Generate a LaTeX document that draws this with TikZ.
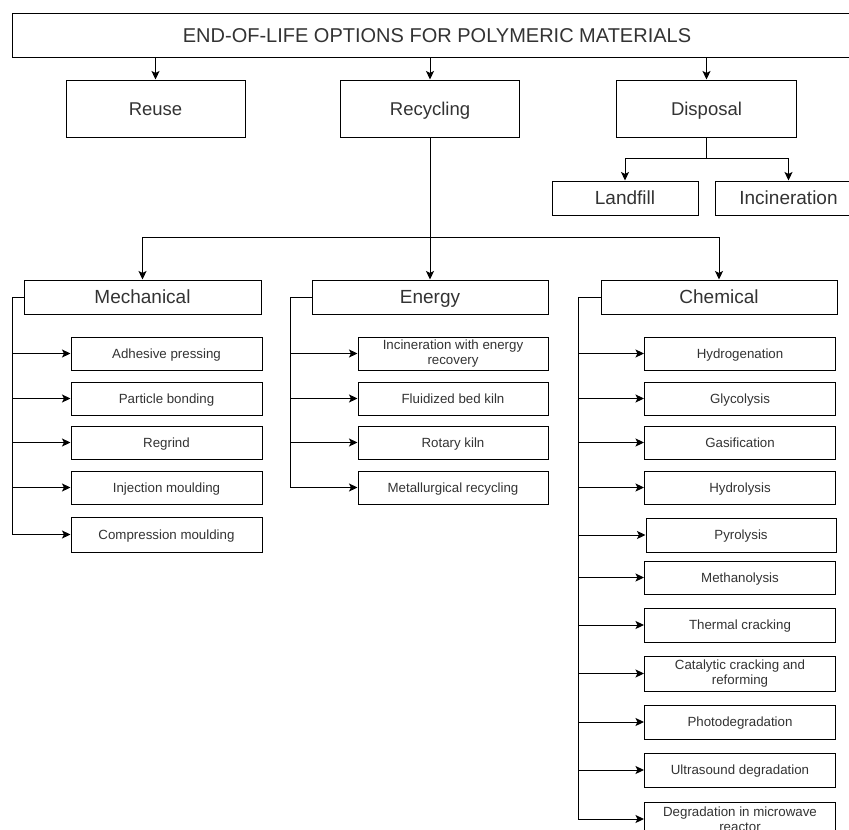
\documentclass[tikz,border=0pt]{standalone}
\usepackage{fontspec}
\setmainfont{Liberation Sans}
\usetikzlibrary{arrows.meta,calc}
\definecolor{txt}{HTML}{333333}
\begin{document}
\begin{tikzpicture}[x=1pt,y=-1pt,
  box/.style={draw=black,line width=1pt,text=txt,inner sep=0pt,align=center,fill=white},
  one/.style={text height=9.5pt,text depth=0pt},
  titlebox/.style={box,text height=14.3pt,text depth=0pt,minimum width=850pt,minimum height=44pt,font=\fontsize{20}{24}\selectfont},
  topbox/.style={box,text height=13.3pt,text depth=0pt,minimum width=179pt,minimum height=57pt,font=\fontsize{18.5}{22}\selectfont},
  dispbox/.style={box,text height=13.6pt,text depth=0pt,minimum width=146pt,minimum height=34pt,font=\fontsize{19}{22}\selectfont},
  catbox/.style={box,text height=13.6pt,text depth=0pt,minimum width=236pt,minimum height=34pt,font=\fontsize{19}{22}\selectfont},
  subbox/.style={box,minimum width=191pt,minimum height=33pt,font=\fontsize{13.3}{15}\selectfont},
  conn/.style={line width=1pt,draw=black},
  arr/.style={conn,-{Stealth[length=8.5pt,width=8pt,inset=2pt]}}
]
\useasboundingbox (0,0) rectangle (849,830);
\clip (0,0) rectangle (849,830);

% top level
\node[titlebox] (title) at (437,35) {END-OF-LIFE OPTIONS FOR POLYMERIC MATERIALS};
\node[topbox] (reuse) at (155.5,108.5) {Reuse};
\node[topbox] (recycling) at (430,108.5) {Recycling};
\node[topbox,minimum width=180pt] (disposal) at (706.5,108.5) {Disposal};
\draw[arr] (reuse.north |- title.south) -- (reuse.north);
\draw[arr] (recycling.north |- title.south) -- (recycling.north);
\draw[arr] (disposal.north |- title.south) -- (disposal.north);

% disposal
\node[dispbox] (landfill) at (625,198) {Landfill};
\node[dispbox,minimum width=147pt] (incin) at (788.5,198) {Incineration};
\coordinate (dj) at (706.5,158);
\draw[conn] (disposal.south) -- (dj);
\draw[arr] (dj) -| (landfill.north);
\draw[arr] (dj) -| (incin.north);

% recycling categories
\node[catbox,minimum width=237pt] (mech) at (142.5,297) {Mechanical};
\node[catbox] (energy) at (430,297) {Energy};
\node[catbox] (chem) at (719,297) {Chemical};
\coordinate (rj) at (430,237);
\draw[arr] (recycling.south) -- (energy.north);
\draw[arr] (rj) -| (mech.north);
\draw[arr] (rj) -| (chem.north);

% mechanical
\begin{scope}[every node/.append style={one}]
\node[subbox] (m1) at (166.5,353.5) {Adhesive pressing};
\node[subbox] (m2) at (166.5,398.5) {Particle bonding};
\node[subbox] (m3) at (166.5,442.5) {Regrind};
\node[subbox] (m4) at (166.5,487.5) {Injection moulding};
\node[subbox,minimum height=35pt] (m5) at (166.5,534.5) {Compression moulding};
\end{scope}
\coordinate (mx) at (12,297);
\draw[conn] (mech.west) -- (mx) -- (mx |- m5.west);
\foreach \n in {m1,m2,m3,m4,m5} \draw[arr] (mx |- \n.west) -- (\n.west);

% energy
\node[subbox,minimum width=190pt] (e1) at (453,353.5) {Incineration with energy\\recovery};
\begin{scope}[every node/.append style={one}]
\node[subbox,minimum width=190pt] (e2) at (453,398.5) {Fluidized bed kiln};
\node[subbox,minimum width=190pt] (e3) at (453,442.5) {Rotary kiln};
\node[subbox,minimum width=190pt] (e4) at (453,487.5) {Metallurgical recycling};
\end{scope}
\coordinate (ex) at (290,297);
\draw[conn] (energy.west) -- (ex) -- (ex |- e4.west);
\foreach \n in {e1,e2,e3,e4} \draw[arr] (ex |- \n.west) -- (\n.west);

% chemical
\begin{scope}[every node/.append style={minimum width=192pt}]
\node[subbox,one] (c1) at (740,353.5) {Hydrogenation};
\node[subbox,one] (c2) at (740,398.5) {Glycolysis};
\node[subbox,one] (c3) at (740,442.5) {Gasification};
\node[subbox,one] (c4) at (740,487.5) {Hydrolysis};
\node[subbox,one,minimum width=190pt,minimum height=34pt] (c5) at (741,535) {Pyrolysis};
\node[subbox,one,minimum height=33pt] (c6) at (740,577.5) {Methanolysis};
\node[subbox,one,minimum height=34pt] (c7) at (740,625) {Thermal cracking};
\node[subbox,minimum height=35pt] (c8) at (740,673.5) {Catalytic cracking and\\reforming};
\node[subbox,one,minimum height=34pt] (c9) at (740,722) {Photodegradation};
\node[subbox,one,minimum height=34pt] (c10) at (740,770) {Ultrasound degradation};
\node[subbox,minimum height=34pt] (c11) at (740,819) {Degradation in microwave\\reactor};
\end{scope}
\coordinate (cx) at (578,297);
\draw[conn] (chem.west) -- (cx) -- (cx |- c11.west);
\foreach \n in {c1,c2,c3,c4,c5,c6,c7,c8,c9,c10,c11} \draw[arr] (cx |- \n.west) -- (\n.west);
\end{tikzpicture}
\end{document}
